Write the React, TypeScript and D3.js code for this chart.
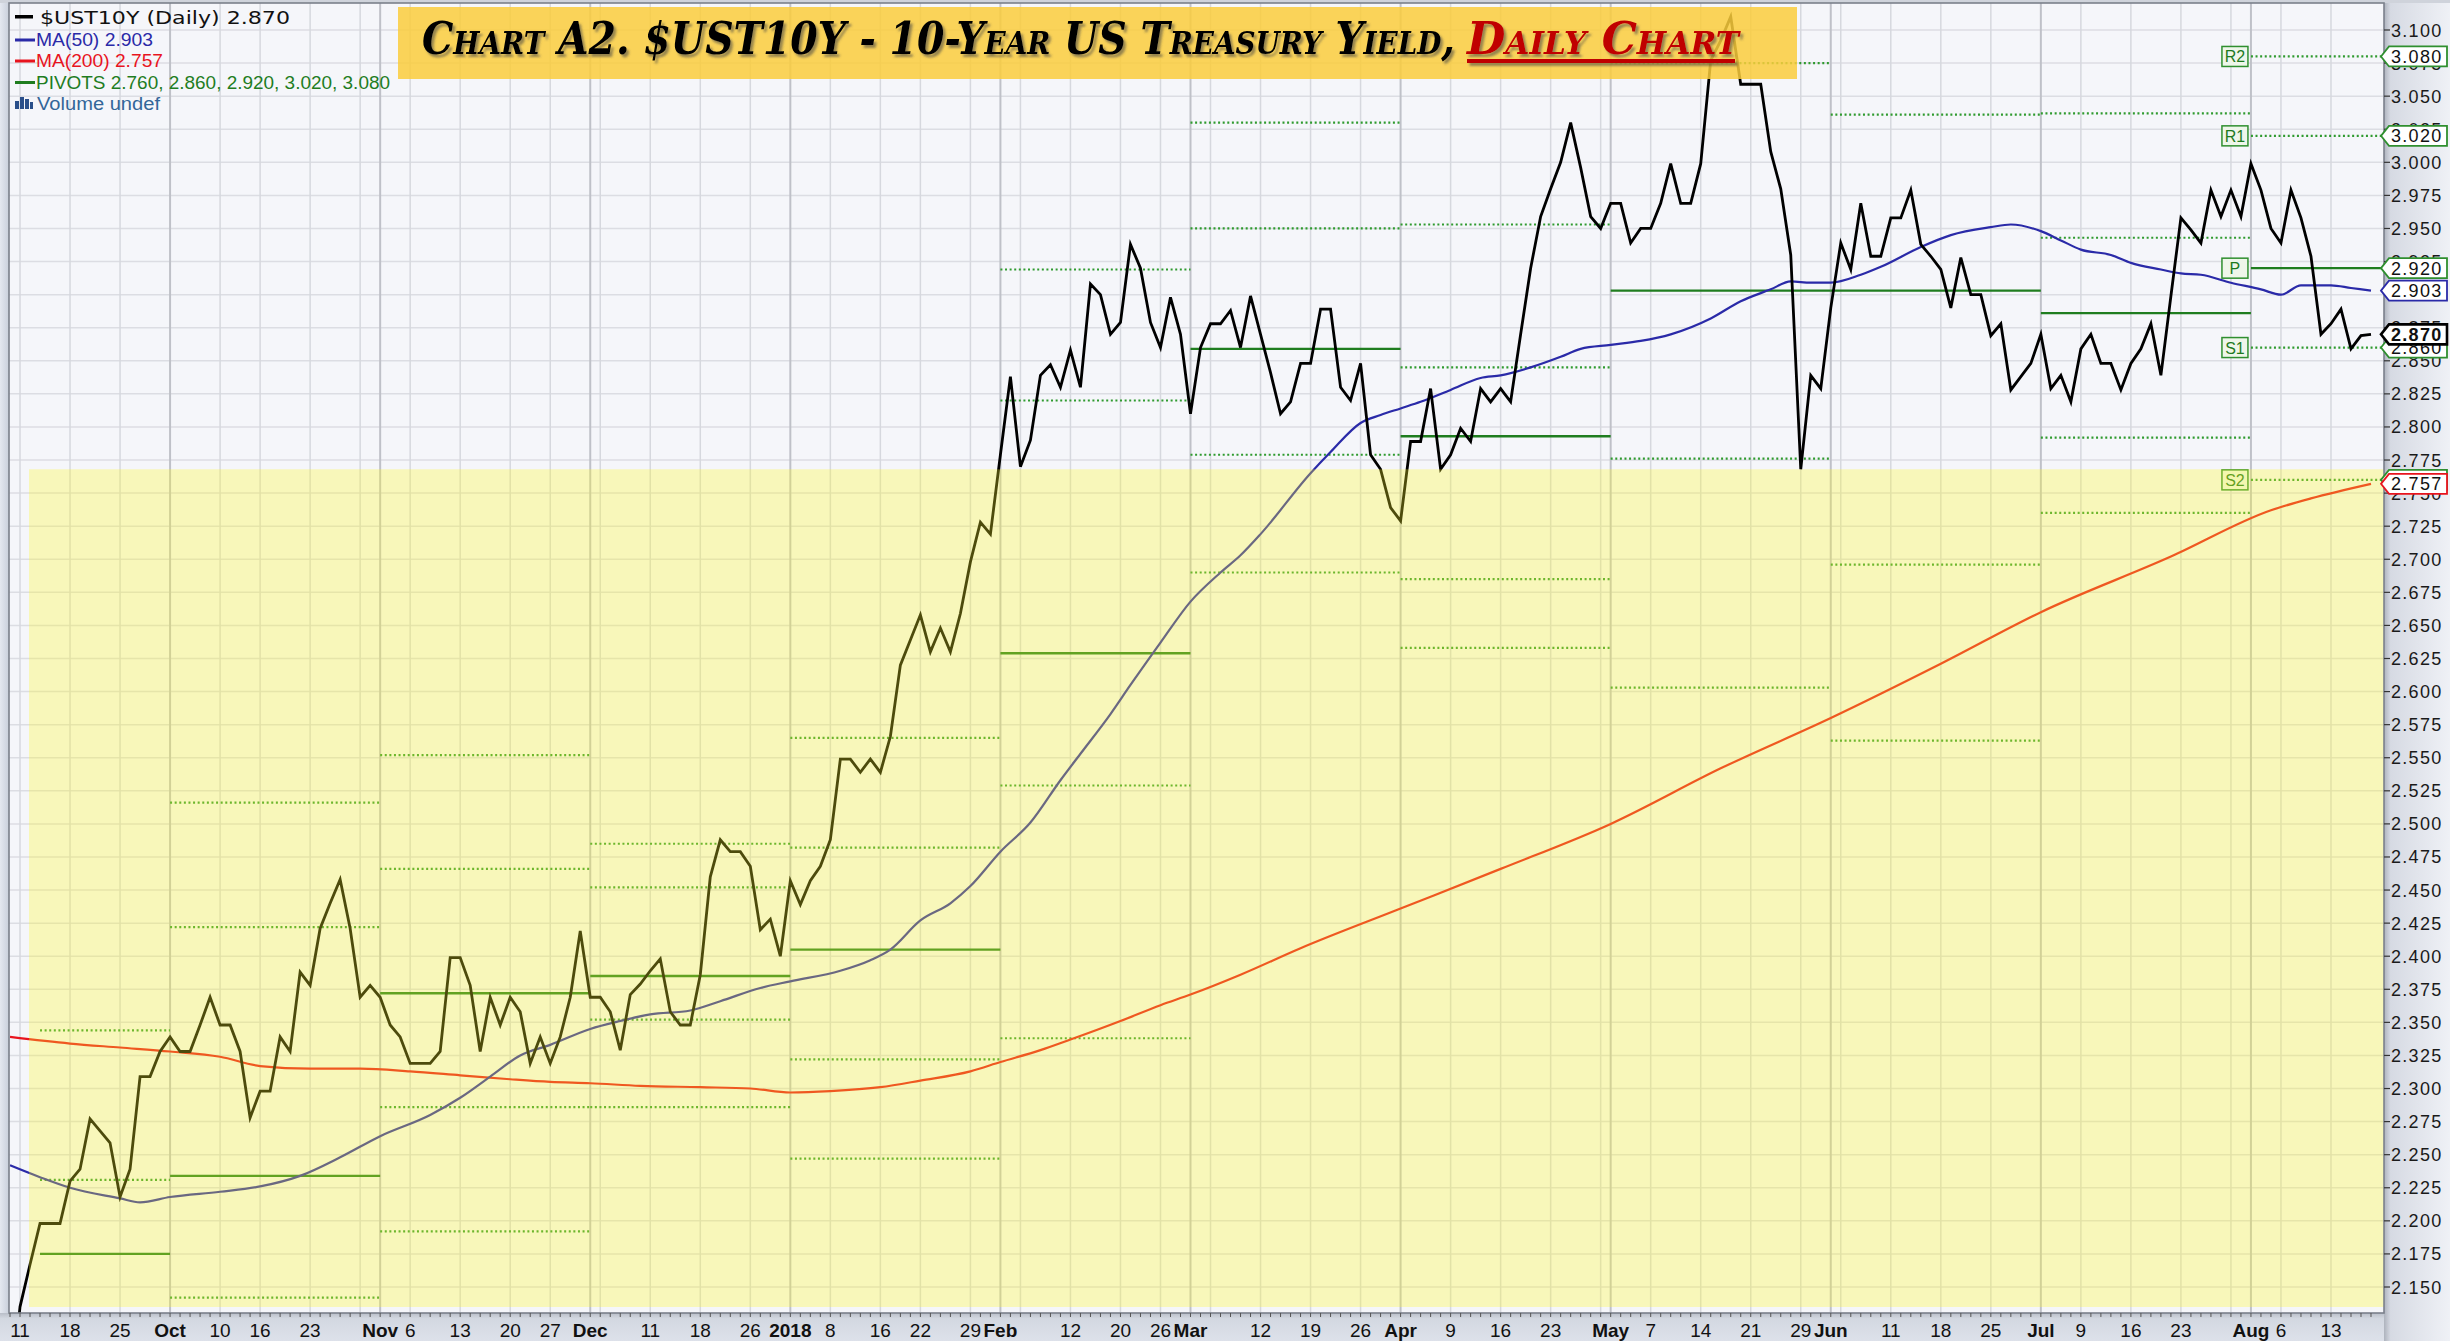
import React from "react";
import * as d3 from "d3";

// ---------- data ----------
const START = "2017-09-08";
const END = "2018-08-17";
const HOLIDAYS = ["2017-10-09", "2017-11-23", "2017-12-25", "2018-01-01", "2018-01-15", "2018-02-19", "2018-03-30", "2018-05-28", "2018-07-04"];

// $UST10Y daily close, Sep 8 2017 .. Aug 17 2018 (one value per trading day)
const yields: number[] = [
  // Sep
  2.06, 2.135, 2.167, 2.198, 2.198, 2.198, 2.23, 2.239, 2.277, 2.268, 2.259, 2.218, 2.239, 2.309, 2.309, 2.328,
  // Oct
  2.339, 2.328, 2.328, 2.348, 2.369, 2.348, 2.348, 2.328, 2.278, 2.298, 2.298, 2.339, 2.328, 2.388, 2.378, 2.421, 2.44, 2.458, 2.421, 2.369, 2.378,
  // Nov
  2.369, 2.348, 2.339, 2.319, 2.319, 2.319, 2.328, 2.399, 2.399, 2.378, 2.328, 2.369, 2.348, 2.369, 2.358, 2.319, 2.339, 2.319, 2.339, 2.369, 2.419,
  // Dec
  2.369, 2.369, 2.358, 2.329, 2.371, 2.379, 2.389, 2.398, 2.358, 2.348, 2.348, 2.386, 2.46, 2.488, 2.479, 2.479, 2.468, 2.42, 2.428, 2.4,
  // Jan
  2.457, 2.439, 2.457, 2.468, 2.488, 2.549, 2.549, 2.539, 2.549, 2.539, 2.566, 2.62, 2.639, 2.658, 2.63, 2.648, 2.63, 2.659, 2.698, 2.728, 2.719,
  // Feb
  2.779, 2.838, 2.77, 2.79, 2.839, 2.847, 2.83, 2.858, 2.83, 2.908, 2.9, 2.87, 2.879, 2.938, 2.92, 2.879, 2.86, 2.898, 2.87,
  // Mar
  2.81, 2.86, 2.878, 2.878, 2.888, 2.86, 2.899, 2.87, 2.841, 2.81, 2.819, 2.848, 2.848, 2.889, 2.889, 2.83, 2.82, 2.848, 2.779, 2.768, 2.739,
  // Apr
  2.729, 2.789, 2.789, 2.829, 2.768, 2.779, 2.799, 2.789, 2.829, 2.819, 2.829, 2.819, 2.87, 2.92, 2.959, 2.98, 3.0, 3.03, 2.996, 2.959, 2.95,
  // May
  2.969, 2.969, 2.939, 2.95, 2.95, 2.969, 2.999, 2.969, 2.969, 2.999, 3.077, 3.092, 3.11, 3.059, 3.059, 3.059, 3.008, 2.98, 2.93, 2.768, 2.839, 2.829,
  // Jun
  2.89, 2.939, 2.919, 2.969, 2.929, 2.929, 2.958, 2.958, 2.979, 2.938, 2.929, 2.919, 2.89, 2.928, 2.9, 2.9, 2.869, 2.878, 2.828, 2.838, 2.848,
  // Jul
  2.87, 2.829, 2.839, 2.819, 2.859, 2.87, 2.848, 2.848, 2.828, 2.848, 2.859, 2.878, 2.839, 2.899, 2.958, 2.949, 2.939, 2.979, 2.959, 2.979, 2.959,
  // Aug
  2.999, 2.979, 2.95, 2.939, 2.979, 2.958, 2.929, 2.87, 2.878, 2.889, 2.859, 2.869, 2.87,
];

// MA(50) read at sampled trading days (day = position in the series)
const ma50Day = [0, 3, 6, 11, 13, 16, 21, 25, 29, 33, 37, 42, 45, 48, 51, 54, 58, 61, 64, 68, 71, 75, 78, 83, 86, 88, 91, 94, 96, 99, 102, 105, 107, 110, 112, 115, 118, 121, 123, 125, 130, 132, 135, 137, 139, 141, 144, 147, 149, 152, 155, 157, 160, 163, 166, 170, 173, 176, 178, 180, 182, 185, 187, 191, 194, 198, 200, 203, 205, 207, 210, 212, 215, 217, 219, 222, 225, 227, 229, 232, 234, 236];
const ma50Val = [2.242, 2.233, 2.225, 2.217, 2.214, 2.218, 2.222, 2.226, 2.234, 2.248, 2.264, 2.28, 2.293, 2.309, 2.325, 2.333, 2.345, 2.351, 2.356, 2.359, 2.366, 2.376, 2.381, 2.389, 2.397, 2.405, 2.427, 2.44, 2.453, 2.479, 2.501, 2.533, 2.553, 2.583, 2.605, 2.637, 2.668, 2.69, 2.703, 2.719, 2.765, 2.781, 2.803, 2.809, 2.814, 2.819, 2.828, 2.837, 2.839, 2.845, 2.853, 2.859, 2.862, 2.865, 2.87, 2.882, 2.895, 2.904, 2.91, 2.909, 2.909, 2.915, 2.921, 2.936, 2.945, 2.951, 2.953, 2.948, 2.941, 2.934, 2.93, 2.924, 2.919, 2.916, 2.915, 2.909, 2.904, 2.9, 2.907, 2.907, 2.905, 2.903];

// MA(200) read at sampled trading days
const ma200Day = [0, 6, 11, 16, 21, 25, 30, 35, 40, 45, 50, 54, 58, 63, 69, 74, 78, 82, 87, 91, 96, 99, 103, 106, 111, 115, 118, 123, 129, 139, 149, 160, 171, 182, 193, 203, 216, 226, 230, 236];
const ma200Val = [2.339, 2.334, 2.331, 2.328, 2.324, 2.317, 2.315, 2.315, 2.313, 2.31, 2.307, 2.305, 2.304, 2.302, 2.301, 2.3, 2.297, 2.298, 2.301, 2.306, 2.313, 2.32, 2.329, 2.337, 2.351, 2.363, 2.371, 2.386, 2.406, 2.436, 2.466, 2.5, 2.542, 2.58, 2.621, 2.66, 2.702, 2.737, 2.746, 2.757];

// Monthly pivot points
const pivotFrom = ["2017-09-13", "2017-10-02", "2017-11-01", "2017-12-01", "2018-01-02", "2018-02-01", "2018-03-01", "2018-04-02", "2018-05-01", "2018-06-01", "2018-07-02", "2018-08-01"];
const pivotS2 = [2.005, 1.95, 2.192, 2.286, 2.247, 2.338, 2.69, 2.633, 2.603, 2.563, 2.735, 2.76];
const pivotS1 = [2.06, 2.142, 2.286, 2.352, 2.322, 2.529, 2.779, 2.685, 2.776, 2.696, 2.792, 2.86];
const pivotP = [2.175, 2.234, 2.372, 2.385, 2.405, 2.629, 2.859, 2.793, 2.903, 2.903, 2.886, 2.92];
const pivotR1 = [2.231, 2.422, 2.466, 2.452, 2.482, 2.82, 2.95, 2.845, 3.075, 3.036, 2.943, 3.02];
const pivotR2 = [2.344, 2.516, 2.552, 2.485, 2.565, 2.919, 3.03, 2.953, 3.2, 3.243, 3.037, 3.08];

// x-axis tick labels
const xTickDates = ["2017-09-11", "2017-09-18", "2017-09-25", "2017-10-02", "2017-10-10", "2017-10-16", "2017-10-23", "2017-11-01", "2017-11-06", "2017-11-13", "2017-11-20", "2017-11-27", "2017-12-01", "2017-12-11", "2017-12-18", "2017-12-26", "2018-01-02", "2018-01-08", "2018-01-16", "2018-01-22", "2018-01-29", "2018-02-01", "2018-02-12", "2018-02-20", "2018-02-26", "2018-03-01", "2018-03-12", "2018-03-19", "2018-03-26", "2018-04-02", "2018-04-09", "2018-04-16", "2018-04-23", "2018-05-01", "2018-05-07", "2018-05-14", "2018-05-21", "2018-05-29", "2018-06-01", "2018-06-11", "2018-06-18", "2018-06-25", "2018-07-02", "2018-07-09", "2018-07-16", "2018-07-23", "2018-08-01", "2018-08-06", "2018-08-13"];
const xTickLabels = ["11", "18", "25", "Oct", "10", "16", "23", "Nov", "6", "13", "20", "27", "Dec", "11", "18", "26", "2018", "8", "16", "22", "29", "Feb", "12", "20", "26", "Mar", "12", "19", "26", "Apr", "9", "16", "23", "May", "7", "14", "21", "29", "Jun", "11", "18", "25", "Jul", "9", "16", "23", "Aug", "6", "13"];

// y-axis ticks
const yTickMin = 2.15;
const yTickMax = 3.1;
const yTickStep = 0.025;

const lastClose = 2.87;
const lastMA50 = 2.903;
const lastMA200 = 2.757;
const highlightTop = 2.768;

// ---------- calendar ----------
const parse = d3.utcParse("%Y-%m-%d");
const fmt = d3.utcFormat("%Y-%m-%d");
const holidaySet = new Set(HOLIDAYS);
const tradingDays: Date[] = d3
  .utcDays(parse(START) as Date, d3.utcDay.offset(parse(END) as Date, 1))
  .filter((d) => d.getUTCDay() !== 0 && d.getUTCDay() !== 6 && !holidaySet.has(fmt(d)));
const dayIndex = new Map(tradingDays.map((d, i) => [fmt(d), i]));

// ---------- layout ----------
const W = 2450;
const H = 1341;
const PL = 9, PR = 2384, PT = 3, PB = 1313;

const x = d3.scaleLinear().domain([-0.1, 237.3]).range([PL, PR]);
const y = d3.scaleLinear().domain([yTickMin, yTickMax]).range([1287, 30]);

const yTicks = d3.range(0, Math.round((yTickMax - yTickMin) / yTickStep) + 1).map((k) => yTickMin + k * yTickStep);
const f3 = d3.format(".3f");

const priceLine = d3.line<number>().x((_, i) => x(i)).y((v) => y(v));
const maLine = d3
  .line<[number, number]>()
  .x((d) => x(d[0]))
  .y((d) => y(d[1]))
  .curve(d3.curveMonotoneX);

const SANS = "'Liberation Sans', Arial, sans-serif";

export default function App() {
  // vertical grid lines
  const vGrid: { xp: number; month: boolean }[] = [];
  tradingDays.forEach((d, i) => {
    if (i === 0) return;
    const prev = tradingDays[i - 1];
    const month = d.getUTCMonth() !== prev.getUTCMonth();
    const week = +d3.utcMonday.floor(d) !== +d3.utcMonday.floor(prev);
    if (month || week) vGrid.push({ xp: x(i), month });
  });

  const pivotSegs = pivotFrom.map((s, k) => {
    const a = dayIndex.get(s) as number;
    const b = k < pivotFrom.length - 1 ? (dayIndex.get(pivotFrom[k + 1]) as number) : tradingDays.length;
    return { a, b, s2: pivotS2[k], s1: pivotS1[k], p: pivotP[k], r1: pivotR1[k], r2: pivotR2[k] };
  });
  const lastSeg = pivotSegs[pivotSegs.length - 1];

  const ma50Pts: [number, number][] = ma50Day.map((d, i) => [d, ma50Val[i]]);
  const ma200Pts: [number, number][] = ma200Day.map((d, i) => [d, ma200Val[i]]);

  const dotted = { stroke: "#2f9a2f", strokeWidth: 2.2, strokeDasharray: "2 2.6" };

  const tag = (v: number, color: string, bold = false, sw = 1.8) => {
    const yy = y(v);
    return (
      <g key={"tag" + v + color}>
        <path
          d={`M${PR - 3},${yy} L${PR + 5},${yy - 10} H${W - 3} V${yy + 10} H${PR + 5} Z`}
          fill="#fff"
          stroke={color}
          strokeWidth={sw}
        />
        <text x={PR + 7} y={yy + 6.5} fontFamily={SANS} fontSize={18} fontWeight={bold ? 700 : 400} letterSpacing={1.3} fill="#111">
          {f3(v)}
        </text>
      </g>
    );
  };

  const pivotLabel = (v: number, lab: string) => {
    const xr = x(lastSeg.a) - 3;
    const yy = y(v);
    return (
      <g key={"pl" + lab}>
        <rect x={xr - 26} y={yy - 10} width={26} height={20} fill="#eef6ea" stroke="#2f8f2f" strokeWidth={1.5} />
        <text x={xr - 13} y={yy + 6} textAnchor="middle" fontFamily={SANS} fontSize={16} fill="#1e7a1e">
          {lab}
        </text>
      </g>
    );
  };

  return (
    <div style={{ position: "absolute", left: 0, top: 0 }}>
      <svg width={W} height={H} viewBox={`0 0 ${W} ${H}`} style={{ display: "block" }}>
        <defs>
          <clipPath id="plotClip">
            <rect x={PL} y={PT} width={PR - PL} height={PB - PT} />
          </clipPath>
          <linearGradient id="rightBg" x1="0" x2="1" y1="0" y2="0">
            <stop offset="0" stopColor="#aeb3bd" />
            <stop offset="0.1" stopColor="#d6dae3" />
            <stop offset="1" stopColor="#eff1f6" />
          </linearGradient>
          <linearGradient id="bottomBg" x1="0" x2="0" y1="0" y2="1">
            <stop offset="0" stopColor="#b9bec8" />
            <stop offset="0.2" stopColor="#d3d8e1" />
            <stop offset="1" stopColor="#dde1ea" />
          </linearGradient>
          <linearGradient id="leftBg" x1="0" x2="1" y1="0" y2="0">
            <stop offset="0" stopColor="#e4e8f0" />
            <stop offset="1" stopColor="#c9cfdb" />
          </linearGradient>
          <filter id="shadow" x="-5%" y="-30%" width="110%" height="160%">
            <feDropShadow dx="2.5" dy="3" stdDeviation="1.2" floodColor="#444" floodOpacity="0.55" />
          </filter>
        </defs>

        {/* outer frame */}
        <rect x={0} y={0} width={W} height={H} fill="#d9dde6" />
        <rect x={0} y={0} width={PL} height={H} fill="url(#leftBg)" />
        <rect x={PR} y={0} width={W - PR} height={H} fill="url(#rightBg)" />
        <rect x={0} y={PB} width={PR} height={H - PB} fill="url(#bottomBg)" />
        <rect x={0} y={0} width={W} height={PT} fill="#cfd3db" />

        {/* plot */}
        <rect x={PL} y={PT} width={PR - PL} height={PB - PT} fill="#f5f6fa" />
        <g clipPath="url(#plotClip)">
          {yTicks.map((t) => (
            <line key={"h" + t} x1={PL} x2={PR} y1={y(t)} y2={y(t)} stroke="#dcdde3" strokeWidth={1.5} />
          ))}
          {vGrid.map((g, i) => (
            <line key={"v" + i} x1={g.xp} x2={g.xp} y1={PT} y2={PB} stroke={g.month ? "#bfc1c8" : "#d6d8de"} strokeWidth={g.month ? 2 : 1.5} />
          ))}

          {/* pivots */}
          {pivotSegs.map((s, k) => (
            <g key={"pv" + k}>
              {[s.s2, s.s1, s.r1, s.r2].map((v, j) => (
                <line key={j} x1={x(s.a)} x2={k === pivotSegs.length - 1 ? PR : x(s.b)} y1={y(v)} y2={y(v)} {...dotted} />
              ))}
              <line x1={x(s.a)} x2={k === pivotSegs.length - 1 ? PR : x(s.b)} y1={y(s.p)} y2={y(s.p)} stroke="#1f7d1f" strokeWidth={2.4} />
            </g>
          ))}
          {pivotLabel(lastSeg.r2, "R2")}
          {pivotLabel(lastSeg.r1, "R1")}
          {pivotLabel(lastSeg.p, "P")}
          {pivotLabel(lastSeg.s1, "S1")}
          {pivotLabel(lastSeg.s2, "S2")}

          {/* moving averages */}
          <path d={maLine(ma200Pts) || ""} fill="none" stroke="#e8141e" strokeWidth={2.2} />
          <path d={maLine(ma50Pts) || ""} fill="none" stroke="#2a2aa8" strokeWidth={2.2} />

          {/* price */}
          <path d={priceLine(yields) || ""} fill="none" stroke="#000" strokeWidth={2.8} strokeLinejoin="miter" />

          {/* yellow highlight overlay */}
          <rect x={29} y={y(highlightTop)} width={PR - 29} height={PB - 6 - y(highlightTop)} fill="rgba(255,250,40,0.3)" />
        </g>

        {/* title box */}
        <rect x={398} y={7} width={1399} height={72} fill="rgba(250,205,60,0.85)" />
        <g filter="url(#shadow)">
          <text
            x={422}
            y={54}
            textLength={1033}
            lengthAdjust="spacingAndGlyphs"
            fontFamily="'DejaVu Serif', serif"
            fontWeight={700}
            fontStyle="italic"
            fontVariant="small-caps"
            fontSize={44}
            fill="#000"
          >
            Chart A2. $UST10Y - 10-Year US Treasury Yield,
          </text>
          <text
            x={1467}
            y={54}
            textLength={272}
            lengthAdjust="spacingAndGlyphs"
            fontFamily="'DejaVu Serif', serif"
            fontWeight={700}
            fontStyle="italic"
            fontVariant="small-caps"
            fontSize={44}
            fill="#c00000"
          >
            Daily Chart
          </text>
          <rect x={1467} y={59} width={268} height={4} fill="#c00000" />
        </g>

        {/* legend */}
        <g>
          <rect x={15} y={15} width={18} height={3.5} fill="#000" />
          <text x={40} y={24} fontFamily="'DejaVu Sans', Verdana, sans-serif" fontSize={18} textLength={250} lengthAdjust="spacingAndGlyphs" fill="#111">
            $UST10Y (Daily) 2.870
          </text>
          <rect x={15} y={38.5} width={20} height={3} fill="#2a2aa8" />
          <text x={36} y={46} fontFamily={SANS} fontSize={18} textLength={117} lengthAdjust="spacingAndGlyphs" fill="#2a2aa8">
            MA(50) 2.903
          </text>
          <rect x={15} y={59.5} width={20} height={3} fill="#e8141e" />
          <text x={36} y={67} fontFamily={SANS} fontSize={18} textLength={127} lengthAdjust="spacingAndGlyphs" fill="#e8141e">
            MA(200) 2.757
          </text>
          <rect x={15} y={81} width={20} height={3} fill="#1f7d1f" />
          <text x={36} y={89} fontFamily={SANS} fontSize={18} textLength={354} lengthAdjust="spacingAndGlyphs" fill="#1f7d1f">
            PIVOTS 2.760, 2.860, 2.920, 3.020, 3.080
          </text>
          <rect x={15} y={101} width={4} height={8} fill="#2a4f8a" />
          <rect x={20} y={97} width={4} height={12} fill="#2a4f8a" />
          <rect x={25} y={99} width={4} height={10} fill="#2a4f8a" />
          <rect x={30} y={102} width={3} height={7} fill="#2a4f8a" />
          <text x={37} y={110} fontFamily={SANS} fontSize={18} textLength={123} lengthAdjust="spacingAndGlyphs" fill="#336699">
            Volume undef
          </text>
        </g>

        {/* plot border */}
        <rect x={PL} y={PT} width={PR - PL} height={PB - PT} fill="none" stroke="#7b808b" strokeWidth={1.6} />

        {/* right axis */}
        {yTicks.map((t) => (
          <g key={"yl" + t}>
            <line x1={PR} x2={PR + 6} y1={y(t)} y2={y(t)} stroke="#333" strokeWidth={1.2} />
            <text x={PR + 7} y={y(t) + 6.5} fontFamily={SANS} fontSize={18} letterSpacing={1.3} fill="#1a1a1a">
              {f3(t)}
            </text>
          </g>
        ))}

        {/* value tags */}
        {tag(lastSeg.r2, "#2f8f2f")}
        {tag(lastSeg.r1, "#2f8f2f")}
        {tag(lastSeg.p, "#2f8f2f")}
        {tag(lastSeg.s1, "#2f8f2f")}
        {tag(lastSeg.s2, "#2f8f2f")}
        {tag(lastMA50, "#2a2aa8")}
        {tag(lastMA200, "#e8141e")}
        {tag(lastClose, "#000", true, 2.6)}

        {/* bottom axis */}
        {tradingDays.map((_, i) => (
          <line key={"dt" + i} x1={x(i)} x2={x(i)} y1={PB} y2={PB + 4} stroke="#555" strokeWidth={1} />
        ))}
        {xTickDates.map((ds, k) => {
          const i = dayIndex.get(ds) as number;
          const lab = xTickLabels[k];
          const bold = isNaN(+lab) || lab.length === 4;
          return (
            <text
              key={"xl" + k}
              x={x(i)}
              y={1337}
              textAnchor="middle"
              fontFamily={SANS}
              fontSize={19}
              fontWeight={bold ? 700 : 400}
              fill="#111"
            >
              {lab}
            </text>
          );
        })}
      </svg>
    </div>
  );
}
